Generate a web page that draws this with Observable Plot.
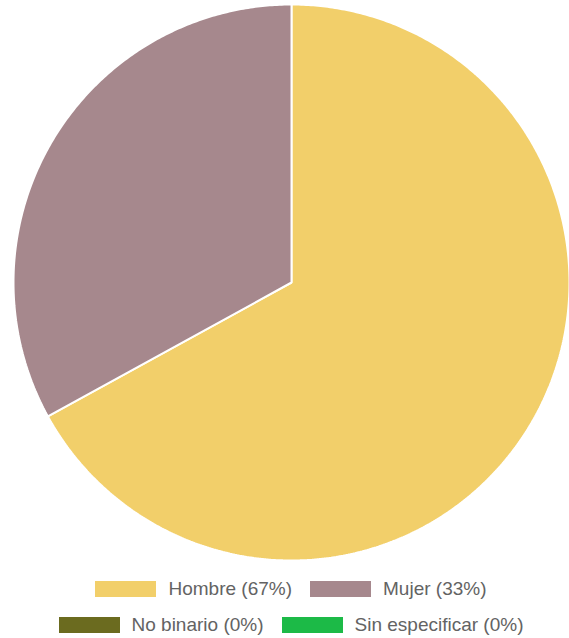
<!DOCTYPE html>
<html>
<head>
<meta charset="utf-8">
<script src="https://cdn.jsdelivr.net/npm/d3@7"></script>
<script src="https://cdn.jsdelivr.net/npm/@observablehq/plot@0.6"></script>
<style>
  html, body { margin: 0; padding: 0; background: #fff; overflow: hidden; }
  #chart svg { display: block; }
  #legend {
    width: 569px; box-sizing: border-box; padding-left: 13px;
    margin-top: 15px;
    font-family: "Liberation Sans", Arial, sans-serif; font-size: 19px; color: #636363;
  }
  .row { display: flex; justify-content: center; height: 16px; margin-bottom: 20px; }
  .item { display: flex; align-items: center; margin: 0 9px; height: 16px; line-height: 16px; white-space: nowrap; }
  .sw { width: 61px; height: 16px; margin-right: 12px; flex: none; }
</style>
</head>
<body>
<div id="chart"></div>
<div id="legend"></div>
<script>
const categories = ["Hombre", "Mujer", "No binario", "Sin especificar"];
const values = [67, 33, 0, 0];
const labels = ["Hombre (67%)", "Mujer (33%)", "No binario (0%)", "Sin especificar (0%)"];
const colors = ["#f2cf6a", "#a6888d", "#6b6b1f", "#1cba47"];
const legendRows = [[0, 1], [2, 3]];

// Build slice outlines (clockwise from 12 o'clock) from the values
const pie = d3.pie().sort(null).value(d => d.value)(categories.map((c, i) => ({category: c, value: values[i]})));
const pts = [];
for (const s of pie) {
  if (s.endAngle - s.startAngle <= 0) continue;
  const cat = s.data.category;
  pts.push({category: cat, x: 0, y: 0});
  const n = Math.max(2, Math.ceil((s.endAngle - s.startAngle) / (Math.PI / 360)));
  for (let k = 0; k <= n; k++) {
    const a = s.startAngle + (s.endAngle - s.startAngle) * k / n;
    pts.push({category: cat, x: Math.sin(a), y: Math.cos(a)});
  }
}

const chart = Plot.plot({
  width: 569, height: 566,
  marginTop: 4, marginBottom: 6, marginLeft: 13, marginRight: 0,
  x: {domain: [-1, 1], axis: null},
  y: {domain: [-1, 1], axis: null},
  color: {domain: categories, range: colors},
  marks: [
    Plot.line(pts, {x: "x", y: "y", z: "category", fill: "category", stroke: "#fff", strokeWidth: 2, strokeLinejoin: "miter", curve: "linear-closed"})
  ]
});
document.getElementById("chart").appendChild(chart);

const legend = document.getElementById("legend");
legendRows.forEach(r => {
  const row = document.createElement("div"); row.className = "row";
  r.forEach(i => {
    const it = document.createElement("div"); it.className = "item";
    const sw = document.createElement("div"); sw.className = "sw"; sw.style.background = colors[i];
    const tx = document.createElement("span"); tx.textContent = labels[i];
    it.appendChild(sw); it.appendChild(tx); row.appendChild(it);
  });
  legend.appendChild(row);
});
</script>
</body>
</html>
